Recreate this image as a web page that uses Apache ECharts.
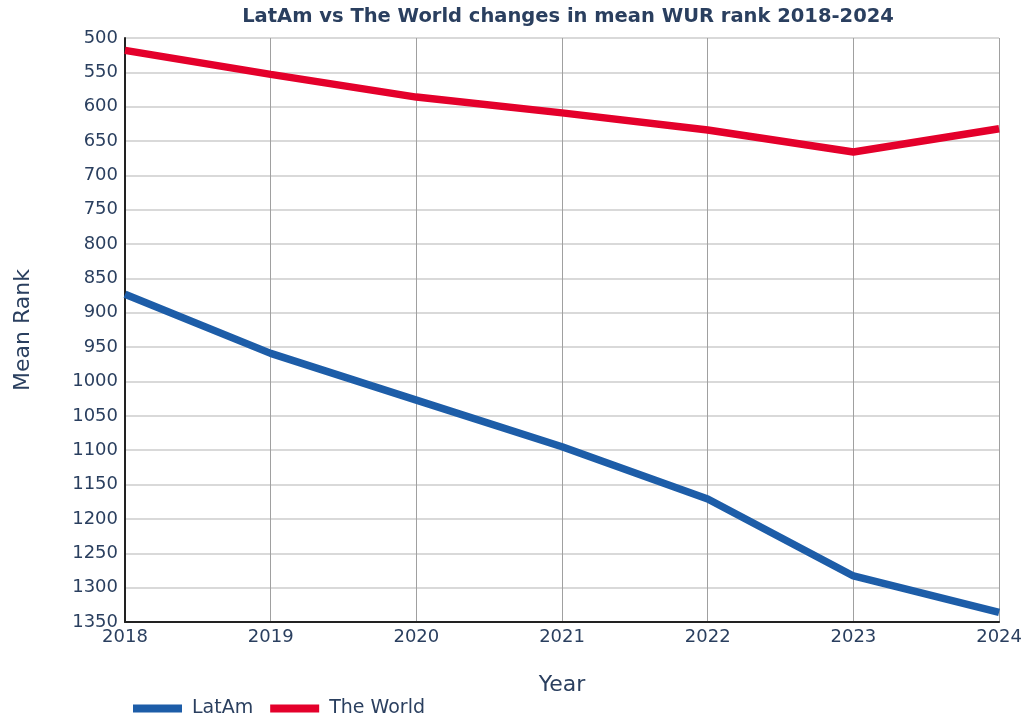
<!DOCTYPE html>
<html>
<head>
<meta charset="utf-8">
<script src="https://cdn.jsdelivr.net/npm/echarts@6/dist/echarts.min.js"></script>
<style>html,body{margin:0;padding:0;background:#fff;}#c{width:1025px;height:715px;}</style>
</head>
<body>
<div id="c"></div>
<script>
const years = [2018, 2019, 2020, 2021, 2022, 2023, 2024];
const latam = [873, 959, 1027, 1095, 1171, 1283, 1336];
const world = [518, 553, 586, 609, 634, 666, 632];
const seriesNames = ['LatAm', 'The World'];

const chart = echarts.init(document.getElementById('c'));
const font = '"DejaVu Sans", Verdana, sans-serif';
const txt = '#2a3f5f';
chart.setOption({
  animation: false,
  backgroundColor: '#fff',
  title: {
    text: 'LatAm vs The World changes in mean WUR rank 2018-2024',
    left: 563, textAlign: 'center', top: 2,
    textStyle: { fontFamily: font, fontSize: 19.5, fontWeight: 'bold', color: txt }
  },
  legend: {
    left: 128, top: 694, itemWidth: 49, itemHeight: 8, itemGap: 17,
    icon: 'rect',
    textStyle: { fontFamily: font, fontSize: 19, color: txt, padding: [0, 0, 0, 5] },
    data: seriesNames
  },
  grid: { left: 125, right: 25, top: 38, bottom: 93, containLabel: false },
  xAxis: {
    type: 'value', min: 2018, max: 2024, interval: 1,
    name: 'Year', nameLocation: 'middle', nameGap: 52,
    nameTextStyle: { fontFamily: font, fontSize: 22, color: txt },
    axisLine: { show: true, lineStyle: { color: '#222', width: 2 } },
    axisTick: { show: false },
    axisLabel: { fontFamily: font, fontSize: 18, color: txt, margin: 6, formatter: v => String(v) },
    splitLine: { show: true, lineStyle: { color: '#a0a0a0', width: 1 } }
  },
  yAxis: {
    type: 'value', inverse: true, min: 500, max: 1350, interval: 50,
    name: 'Mean Rank', nameLocation: 'middle', nameGap: 91,
    nameTextStyle: { fontFamily: font, fontSize: 22, color: txt },
    axisLine: { show: true, lineStyle: { color: '#222', width: 2 } },
    axisTick: { show: false },
    axisLabel: { fontFamily: font, fontSize: 18, color: txt, margin: 7, formatter: v => String(v) },
    splitLine: { show: true, lineStyle: { color: '#cccccc', width: 1.5 } }
  },
  series: [
    { name: seriesNames[0], type: 'line', data: years.map((y, i) => [y, latam[i]]),
      symbol: 'none', lineStyle: { color: '#1d5da8', width: 7.5 }, itemStyle: { color: '#1d5da8' } },
    { name: seriesNames[1], type: 'line', data: years.map((y, i) => [y, world[i]]),
      symbol: 'none', lineStyle: { color: '#e4002b', width: 7.5 }, itemStyle: { color: '#e4002b' } }
  ]
});
</script>
</body>
</html>
